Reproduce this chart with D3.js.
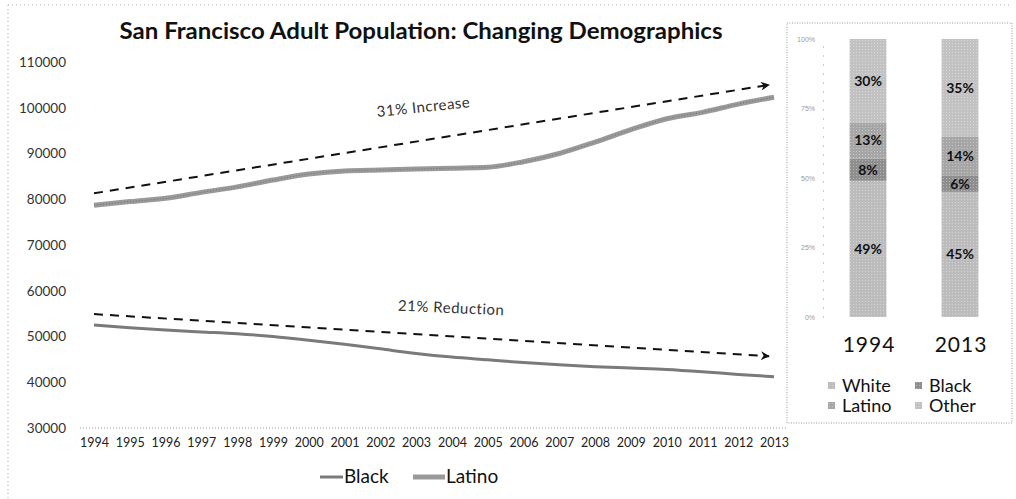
<!DOCTYPE html>
<html><head><meta charset="utf-8">
<script src="https://cdn.jsdelivr.net/npm/d3@7"></script>
<style>body{margin:0;background:#fff}svg{display:block}</style>
</head><body>
<script>
// ---- data ----
const years = [1994,1995,1996,1997,1998,1999,2000,2001,2002,2003,2004,2005,2006,2007,2008,2009,2010,2011,2012,2013];
const latino = [78700,79500,80200,81500,82700,84200,85500,86200,86400,86600,86800,87000,88200,90000,92500,95200,97600,99000,100800,102300];
const black  = [52500,51900,51400,51000,50600,50000,49200,48300,47300,46300,45500,44900,44300,43800,43400,43100,42800,42300,41700,41200];
const trendYears = [1994, 2013];
const latinoTrend = [81300, 105000];
const blackTrend = [54900, 45700];
const yTicks = [30000,40000,50000,60000,70000,80000,90000,100000,110000];
const annotations = ["31% Increase", "21% Reduction"];

const barYears = ["1994", "2013"];
const groups = ["White", "Black", "Latino", "Other"];
const whitePct = [49, 45];
const blackPct = [8, 6];
const latinoPct = [13, 14];
const otherPct = [30, 35];
const pctTicks = [0, 25, 50, 75, 100];

// ---- setup ----
const W = 1016, H = 499;
const svg = d3.select("body").append("svg").attr("width", W).attr("height", H)
  .style("font-family", "Lato, 'Open Sans', sans-serif");
svg.append("rect").attr("width", W).attr("height", H).attr("fill", "#fff");

const defs = svg.append("defs");
defs.append("marker").attr("id", "arrow").attr("viewBox", "0 0 10 10")
  .attr("refX", 9).attr("refY", 5).attr("markerWidth", 11).attr("markerHeight", 9)
  .attr("markerUnits", "userSpaceOnUse").attr("orient", "auto")
  .append("path").attr("d", "M0,0 L10,5 L0,10 L3,5 Z").attr("fill", "#111");

// outer faint dotted border (top and left)
svg.append("line").attr("x1", 8).attr("x2", 1010).attr("y1", 5).attr("y2", 5)
  .attr("stroke", "#aaa").attr("stroke-dasharray", "1,3");
svg.append("line").attr("x1", 8).attr("x2", 8).attr("y1", 5).attr("y2", 499)
  .attr("stroke", "#aaa").attr("stroke-dasharray", "1,3");

// title
svg.append("text").attr("x", 421).attr("y", 39).attr("text-anchor", "middle")
  .attr("font-size", 22).attr("font-weight", 700).attr("fill", "#111")
  .attr("textLength", 603).attr("lengthAdjust", "spacingAndGlyphs")
  .text("San Francisco Adult Population: Changing Demographics");

// ---- line chart ----
const x = d3.scalePoint().domain(years).range([94, 774]);
const y = d3.scaleLinear().domain([30000, 110000]).range([428, 62]);

const yAxis = svg.append("g").attr("transform", "translate(66,0)")
  .call(d3.axisLeft(y).tickValues(yTicks).tickFormat(d3.format("d")).tickSize(0).tickPadding(0));
yAxis.select(".domain").remove();
yAxis.selectAll("text").attr("font-size", 13.5).attr("fill", "#333")
  .style("font-family", "Lato, sans-serif");

const xAxis = svg.append("g").attr("transform", "translate(0,428)")
  .call(d3.axisBottom(x).tickSize(0).tickPadding(10));
xAxis.select(".domain").remove();
xAxis.selectAll("text").attr("font-size", 12.5).attr("fill", "#222")
  .style("font-family", "Lato, sans-serif");

svg.append("line").attr("x1", 80).attr("x2", 787).attr("y1", 428).attr("y2", 428)
  .attr("stroke", "#999").attr("stroke-dasharray", "1,2");

const line = d3.line().x((d, i) => x(years[i])).y(d => y(d)).curve(d3.curveMonotoneX);

svg.append("path").datum(latino).attr("d", line).attr("fill", "none")
  .attr("stroke", "#9a9a9a").attr("stroke-width", 5);
svg.append("path").datum(latino).attr("d", line).attr("fill", "none")
  .attr("stroke", "#6f6f6f").attr("stroke-width", 1).attr("stroke-dasharray", "1,2");
svg.append("path").datum(black).attr("d", line).attr("fill", "none")
  .attr("stroke", "#7a7a7a").attr("stroke-width", 3);

const tline = d3.line().x((d, i) => x(trendYears[i]) - (i ? 5 : 0)).y(d => y(d));
[latinoTrend, blackTrend].forEach(t => {
  svg.append("path").datum(t).attr("d", tline).attr("fill", "none")
    .attr("stroke", "#111").attr("stroke-width", 2).attr("stroke-dasharray", "9,7")
    .attr("marker-end", "url(#arrow)");
});

svg.append("text").attr("transform", "translate(424,112) rotate(-6)")
  .attr("text-anchor", "middle").attr("font-size", 15).attr("fill", "#333")
  .attr("letter-spacing", 0.5).text(annotations[0]);
svg.append("text").attr("transform", "translate(451,313) rotate(2.5)")
  .attr("text-anchor", "middle").attr("font-size", 15).attr("fill", "#333")
  .attr("letter-spacing", 0.5).text(annotations[1]);

// line legend
const lineLegend = [
  {name: "Black", x0: 320, x1: 343, stroke: "#7a7a7a", w: 3},
  {name: "Latino", x0: 413, x1: 445, stroke: "#9a9a9a", w: 5}
];
lineLegend.forEach(l => {
  svg.append("line").attr("x1", l.x0).attr("x2", l.x1).attr("y1", 477).attr("y2", 477)
    .attr("stroke", l.stroke).attr("stroke-width", l.w);
  svg.append("text").attr("x", l.x1 + 1).attr("y", 483).attr("font-size", 19)
    .attr("fill", "#111").text(l.name);
});

// ---- stacked bar panel ----
svg.append("rect").attr("x", 787).attr("y", 23).attr("width", 225).attr("height", 400)
  .attr("fill", "none").attr("stroke", "#999").attr("stroke-dasharray", "1,1.5");

const table = barYears.map((yr, i) => ({year: yr, White: whitePct[i], Black: blackPct[i], Latino: latinoPct[i], Other: otherPct[i]}));
const stack = d3.stack().keys(groups)(table);

const bx = d3.scaleBand().domain(barYears).range([822, 1006]).paddingInner(0.6).paddingOuter(0.3);
const by = d3.scaleLinear().domain([0, 100]).range([317, 39]);
const barFill = {White: "#bcbcbc", Black: "#8e8e8e", Latino: "#a6a6a6", Other: "#c2c2c2"};

const pAxis = svg.append("g").attr("transform", "translate(823,0)")
  .call(d3.axisLeft(by).tickValues(pctTicks).tickFormat(d => d + "%").tickSize(0).tickPadding(8));
pAxis.select(".domain").attr("stroke", "#999").attr("stroke-dasharray", "1,8");
pAxis.selectAll("text").attr("font-size", 7).attr("fill", "#999");

// pattern texture for halftone look
groups.forEach(g => {
  const p = defs.append("pattern").attr("id", "pat-" + g).attr("width", 3).attr("height", 3)
    .attr("patternUnits", "userSpaceOnUse");
  p.append("rect").attr("width", 3).attr("height", 3).attr("fill", barFill[g]);
  p.append("rect").attr("x", 1).attr("y", 1).attr("width", 1).attr("height", 1).attr("fill", "#fff").attr("opacity", 0.35);
});

stack.forEach(layer => {
  svg.append("g").selectAll("rect").data(layer).join("rect")
    .attr("x", d => bx(d.data.year)).attr("width", bx.bandwidth())
    .attr("y", d => by(d[1])).attr("height", d => by(d[0]) - by(d[1]))
    .attr("fill", "url(#pat-" + layer.key + ")");
  svg.append("g").selectAll("text").data(layer).join("text")
    .attr("x", d => bx(d.data.year) + bx.bandwidth() / 2)
    .attr("y", d => (by(d[0]) + by(d[1])) / 2 + 5)
    .attr("text-anchor", "middle").attr("font-size", 14).attr("font-weight", 700)
    .attr("fill", "#111").text(d => (d[1] - d[0]) + "%");
});

svg.append("g").selectAll("text").data(barYears).join("text")
  .attr("x", d => bx(d) + bx.bandwidth() / 2 + 1).attr("y", 352)
  .attr("text-anchor", "middle").attr("font-size", 21).attr("letter-spacing", 1)
  .attr("fill", "#111").text(d => d);

const legPos = [[830, 392], [917, 392], [830, 412], [917, 412]];
groups.forEach((g, i) => {
  const [lx, ly] = legPos[i];
  svg.append("rect").attr("x", lx - 2).attr("y", ly - 10).attr("width", 7).attr("height", 7)
    .attr("fill", "url(#pat-" + g + ")");
  svg.append("text").attr("x", lx + 12).attr("y", ly).attr("font-size", 18)
    .attr("fill", "#111").text(g);
});
</script>
</body></html>
